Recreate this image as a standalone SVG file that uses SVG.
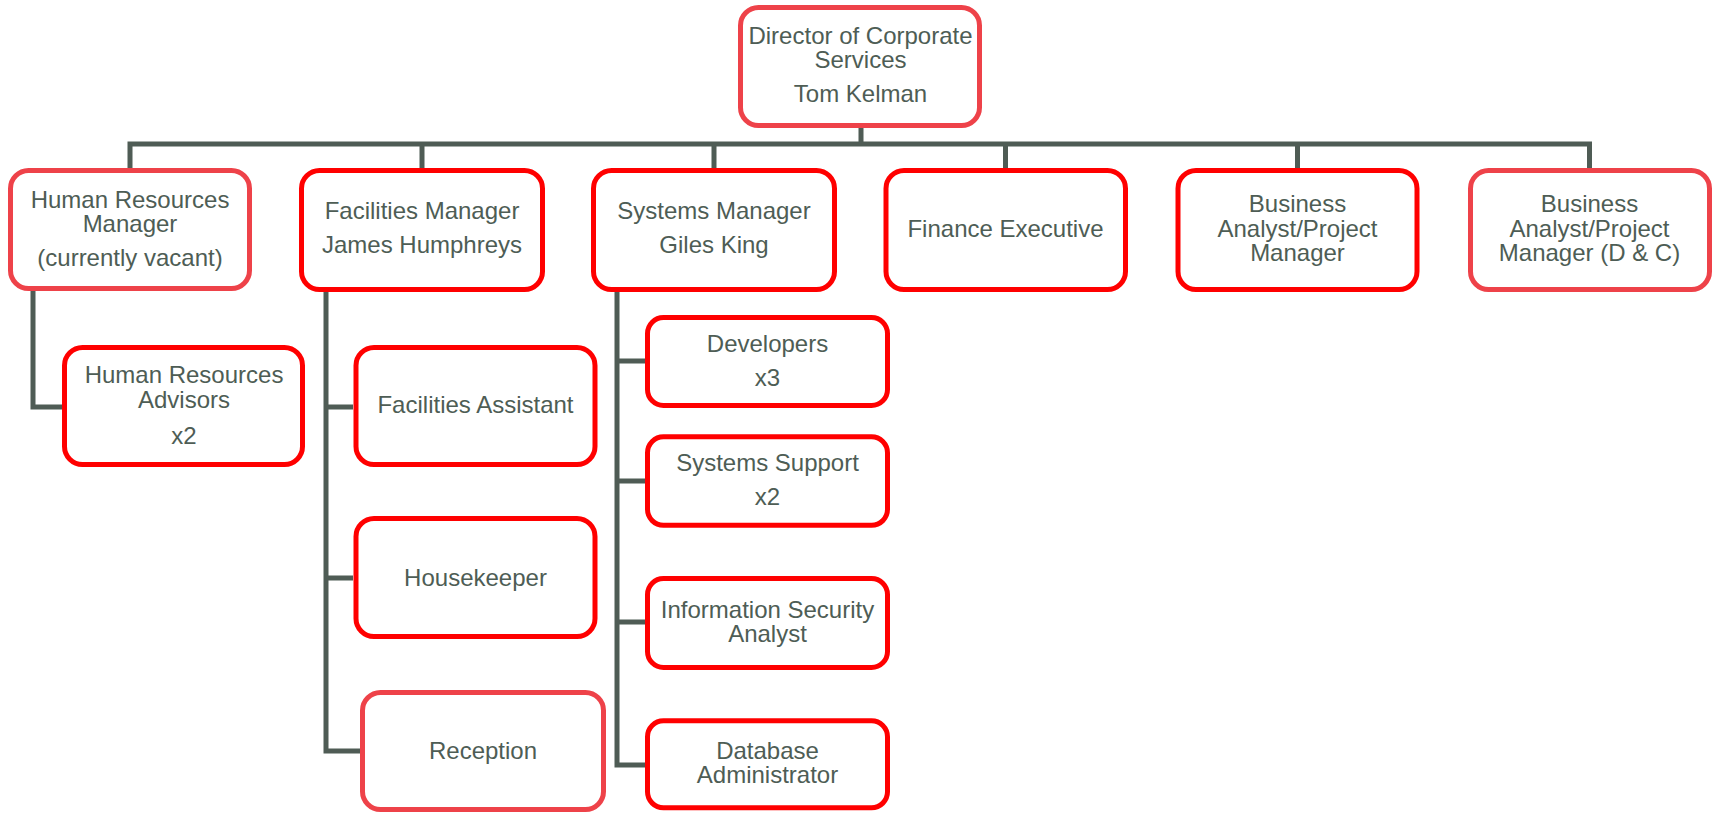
<svg xmlns="http://www.w3.org/2000/svg" width="1713" height="813" viewBox="0 0 1713 813">
<style>
.box{fill:#ffffff;stroke:#ff0000;stroke-width:5}
.soft{stroke:#ee4249}
.t{font-family:"Liberation Sans",Arial,sans-serif;font-size:24px;fill:#4e5d55;text-anchor:middle}
.c{fill:none;stroke:#4f5c55;stroke-width:5;stroke-linejoin:miter}
</style>
<rect width="1713" height="813" fill="#ffffff"/>
<g id="connectors">
<path class="c" d="M861 128V144M130 168V144H1589.5V168M422 144V168M714 144V168M1005.5 144V168M1297.5 144V168"/>
<path class="c" d="M33 290V407H62"/>
<path class="c" d="M326 292V751H360M326 407H353M326 578H353"/>
<path class="c" d="M617 292V765H645M617 361H645M617 481H645M617 622H645"/>
</g>
<g id="director">
<rect class="box soft" x="740.5" y="7.5" width="239" height="118" rx="18"/>
<text class="t" x="860.5" y="44">Director of Corporate</text>
<text class="t" x="860.5" y="68">Services</text>
<text class="t" x="860.5" y="102">Tom Kelman</text>
</g>
<g id="hr-manager">
<rect class="box soft" x="10.5" y="170.5" width="239" height="118" rx="18"/>
<text class="t" x="130" y="208">Human Resources</text>
<text class="t" x="130" y="232">Manager</text>
<text class="t" x="130" y="266">(currently vacant)</text>
</g>
<g id="facilities-manager">
<rect class="box" x="301.5" y="170.5" width="241" height="119" rx="18"/>
<text class="t" x="422" y="219">Facilities Manager</text>
<text class="t" x="422" y="253">James Humphreys</text>
</g>
<g id="systems-manager">
<rect class="box" x="593.5" y="170.5" width="241" height="119" rx="18"/>
<text class="t" x="714" y="219">Systems Manager</text>
<text class="t" x="714" y="253">Giles King</text>
</g>
<g id="finance-executive">
<rect class="box" x="886" y="170.5" width="239.5" height="119" rx="18"/>
<text class="t" x="1005.5" y="237">Finance Executive</text>
</g>
<g id="business-analyst">
<rect class="box" x="1178" y="170.5" width="239" height="119" rx="18"/>
<text class="t" x="1297.5" y="212">Business</text>
<text class="t" x="1297.5" y="237">Analyst/Project</text>
<text class="t" x="1297.5" y="261">Manager</text>
</g>
<g id="business-analyst-dc">
<rect class="box soft" x="1470.5" y="170.5" width="239" height="119" rx="18"/>
<text class="t" x="1589.5" y="212">Business</text>
<text class="t" x="1589.5" y="237">Analyst/Project</text>
<text class="t" x="1589.5" y="261">Manager (D &amp; C)</text>
</g>
<g id="hr-advisors">
<rect class="box" x="64.5" y="347.5" width="238" height="117" rx="18"/>
<text class="t" x="184" y="383">Human Resources</text>
<text class="t" x="184" y="408">Advisors</text>
<text class="t" x="184" y="444">x2</text>
</g>
<g id="facilities-assistant">
<rect class="box" x="356" y="347.5" width="239" height="117" rx="18"/>
<text class="t" x="475.5" y="413">Facilities Assistant</text>
</g>
<g id="housekeeper">
<rect class="box" x="356" y="518.5" width="239" height="118" rx="18"/>
<text class="t" x="475.5" y="586">Housekeeper</text>
</g>
<g id="reception">
<rect class="box soft" x="362.5" y="692.5" width="241" height="117" rx="18"/>
<text class="t" x="483" y="759">Reception</text>
</g>
<g id="developers">
<rect class="box" x="647.5" y="317.5" width="240" height="88" rx="16"/>
<text class="t" x="767.5" y="352">Developers</text>
<text class="t" x="767.5" y="386">x3</text>
</g>
<g id="systems-support">
<rect class="box" x="647.5" y="436.8" width="240" height="88.5" rx="16"/>
<text class="t" x="767.5" y="471">Systems Support</text>
<text class="t" x="767.5" y="505">x2</text>
</g>
<g id="information-security-analyst">
<rect class="box" x="647.5" y="578.5" width="240" height="89" rx="16"/>
<text class="t" x="767.5" y="618">Information Security</text>
<text class="t" x="767.5" y="642">Analyst</text>
</g>
<g id="database-administrator">
<rect class="box" x="647.5" y="720.8" width="240" height="87" rx="16"/>
<text class="t" x="767.5" y="759">Database</text>
<text class="t" x="767.5" y="783">Administrator</text>
</g>
</svg>
